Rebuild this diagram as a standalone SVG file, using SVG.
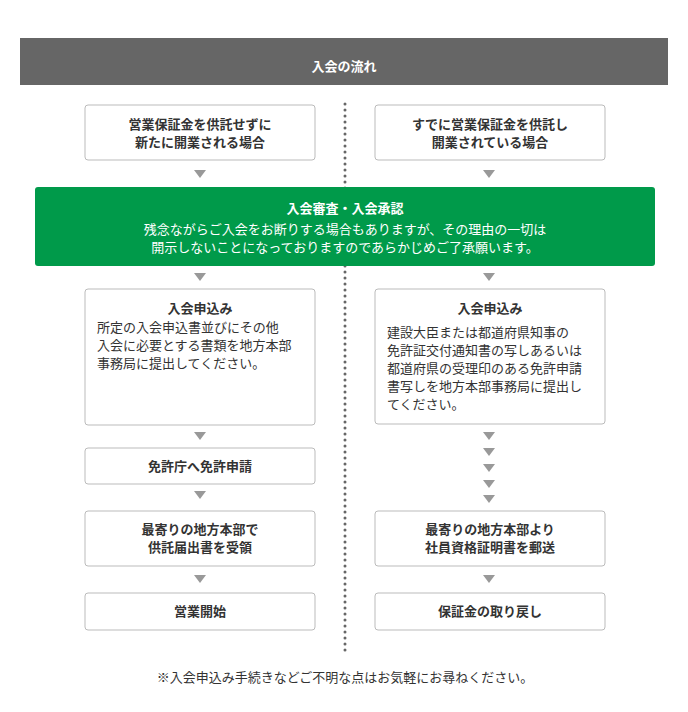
<svg xmlns="http://www.w3.org/2000/svg" width="688" height="712" viewBox="0 0 688 712">
<style>
text{font-family:"Noto Sans CJK JP","Noto Sans",sans-serif;fill:#333;font-size:13px}
.b{fill:#fff;stroke:#bbb;stroke-width:1}
.t{text-anchor:middle;font-weight:bold}
.a{fill:#999}
</style>
<defs><path id="tri" d="M-6,0 L6,0 L0,8 Z" class="a"/></defs>
<rect x="0" y="0" width="688" height="712" fill="#fff"/>
<g id="header"><rect x="20" y="38" width="648" height="47" fill="#666"/>
<text x="344" y="71" text-anchor="middle" font-weight="bold" font-size="25" style="fill:#fff">入会の流れ</text></g>
<g id="connectors">
<line x1="345" y1="104" x2="345" y2="652" stroke="#666" stroke-width="3" stroke-dasharray="0 6" stroke-linecap="round"/>
<use href="#tri" x="200" y="170"/><use href="#tri" x="489" y="170"/>
<use href="#tri" x="200" y="273"/><use href="#tri" x="489" y="273"/>
<use href="#tri" x="200" y="432"/><use href="#tri" x="200" y="491"/><use href="#tri" x="200" y="575"/>
<use href="#tri" x="489" y="432"/><use href="#tri" x="489" y="448"/><use href="#tri" x="489" y="464"/><use href="#tri" x="489" y="480"/><use href="#tri" x="489" y="495"/>
<use href="#tri" x="489" y="575"/>
</g>
<g id="n1"><rect class="b" x="85" y="105" width="230" height="55" rx="3"/><text class="t" x="200" y="129">営業保証金を供託せずに</text><text class="t" x="200" y="147">新たに開業される場合</text></g>
<g id="n2"><rect class="b" x="375" y="105" width="230" height="55" rx="3"/><text class="t" x="490" y="129">すでに営業保証金を供託し</text><text class="t" x="490" y="147">開業されている場合</text></g>
<g id="green"><rect x="35" y="187" width="620" height="79" rx="3" fill="#009a4a"/>
<text class="t" x="345" y="213" style="fill:#fff">入会審査・入会承認</text>
<text x="345" y="234" text-anchor="middle" font-size="12" style="fill:#fff">残念ながらご入会をお断りする場合もありますが、その理由の一切は</text>
<text x="345" y="252" text-anchor="middle" font-size="12" style="fill:#fff">開示しないことになっておりますのであらかじめご了承願います。</text></g>
<g id="n3"><rect class="b" x="85" y="289" width="230" height="136" rx="3"/><text class="t" x="200" y="313">入会申込み</text>
<text x="97" y="332">所定の入会申込書並びにその他</text><text x="97" y="350">入会に必要とする書類を地方本部</text><text x="97" y="368">事務局に提出してください。</text></g>
<g id="n4"><rect class="b" x="375" y="289" width="230" height="135" rx="3"/><text class="t" x="490" y="313">入会申込み</text>
<text x="387" y="337">建設大臣または都道府県知事の</text><text x="387" y="355">免許証交付通知書の写しあるいは</text><text x="387" y="373">都道府県の受理印のある免許申請</text><text x="387" y="391">書写しを地方本部事務局に提出し</text><text x="387" y="409">てください。</text></g>
<g id="n5"><rect class="b" x="85" y="448" width="230" height="36" rx="3"/><text class="t" x="200" y="471">免許庁へ免許申請</text></g>
<g id="n6"><rect class="b" x="85" y="511" width="230" height="55" rx="3"/><text class="t" x="200" y="534">最寄りの地方本部で</text><text class="t" x="200" y="552">供託届出書を受領</text></g>
<g id="n7"><rect class="b" x="375" y="511" width="230" height="55" rx="3"/><text class="t" x="490" y="534">最寄りの地方本部より</text><text class="t" x="490" y="552">社員資格証明書を郵送</text></g>
<g id="n8"><rect class="b" x="85" y="593" width="230" height="37" rx="3"/><text class="t" x="200" y="616">営業開始</text></g>
<g id="n9"><rect class="b" x="375" y="593" width="230" height="37" rx="3"/><text class="t" x="490" y="616">保証金の取り戻し</text></g>
<text x="345" y="682" text-anchor="middle" font-size="12">※入会申込み手続きなどご不明な点はお気軽にお尋ねください。</text>
</svg>
